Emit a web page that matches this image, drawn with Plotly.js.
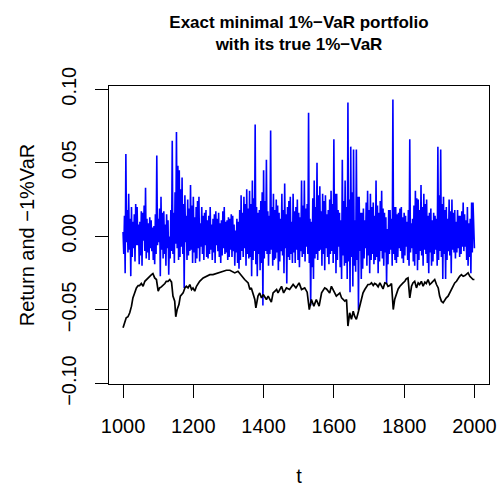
<!DOCTYPE html>
<html>
<head>
<meta charset="utf-8">
<script src="https://cdn.plot.ly/plotly-3.0.1.min.js"></script>
<style>html,body{margin:0;padding:0;background:#fff;}#chart{width:501px;height:489px;}</style>
</head>
<body>
<div id="chart"></div>
<script>
// Portfolio return (blue), sampled every 2 periods from t = 1000
const tStart = 1000;
const tStep = 2;
const portfolioReturn = [
  0.003, -0.012, 0.014, -0.025, 0.056, -0.004, 0.018, -0.011, 0.029, -0.009, 0.012, -0.027, 0.020, -0.014, 0.010, -0.008, 0.015, -0.017, 0.022, -0.006,
  0.020, -0.006, 0.008, -0.019, 0.010, -0.013, 0.017, -0.020, 0.016, -0.003, 0.021, -0.010, 0.033, -0.015, 0.012, -0.011, 0.009, -0.016, 0.013, -0.008,
  0.011, -0.010, 0.006, -0.016, 0.007, -0.019, 0.015, -0.012, 0.055, -0.006, 0.012, -0.004, 0.019, -0.027, 0.027, -0.009, 0.016, -0.015, 0.017, -0.012,
  0.008, -0.020, 0.015, -0.008, 0.011, -0.026, 0.000, -0.015, 0.018, -0.010, 0.065, -0.012, 0.016, -0.018, 0.030, -0.005, 0.071, -0.008, 0.048, -0.016,
  0.045, -0.014, 0.032, -0.007, 0.040, -0.012, 0.022, -0.035, 0.028, -0.004, 0.014, -0.016, 0.025, -0.013, 0.019, -0.010, 0.035, -0.009, 0.021, -0.018,
  0.027, -0.011, 0.013, -0.018, 0.020, -0.015, 0.024, -0.008, 0.027, -0.017, 0.009, -0.007, 0.020, -0.012, 0.014, -0.016, 0.016, -0.006, 0.018, -0.014,
  0.011, -0.015, 0.014, -0.012, 0.020, -0.009, 0.008, -0.016, 0.012, -0.011, 0.015, -0.018, 0.017, -0.006, 0.012, -0.010, 0.016, -0.014, 0.009, -0.018,
  0.011, -0.013, 0.017, -0.008, 0.020, -0.012, 0.010, -0.011, 0.011, -0.016, 0.013, -0.014, 0.012, -0.009, 0.015, -0.014, 0.014, -0.010, 0.008, -0.020,
  0.004, -0.011, 0.012, -0.018, 0.010, -0.022, 0.018, -0.016, 0.028, -0.010, 0.016, -0.014, 0.027, -0.008, 0.022, -0.020, 0.032, -0.012, 0.019, -0.015,
  0.031, -0.014, 0.022, -0.027, 0.038, -0.016, 0.026, -0.010, 0.076, -0.019, 0.020, -0.027, 0.016, -0.012, 0.018, -0.023, 0.024, -0.018, 0.030, -0.047,
  0.045, -0.015, 0.024, -0.010, 0.052, -0.012, 0.017, -0.020, 0.014, -0.012, 0.072, -0.009, 0.020, -0.020, 0.029, -0.016, 0.018, -0.015, 0.025, -0.011,
  0.021, -0.023, 0.016, -0.017, 0.012, -0.010, 0.029, -0.013, 0.018, -0.025, 0.036, -0.008, 0.015, -0.032, 0.020, -0.014, 0.024, -0.016, 0.027, -0.012,
  0.010, -0.018, 0.029, -0.011, 0.017, -0.018, 0.020, -0.009, 0.025, -0.016, 0.016, -0.021, 0.013, -0.010, 0.038, -0.014, 0.021, -0.012, 0.038, -0.017,
  0.019, -0.007, 0.022, -0.012, 0.084, -0.018, 0.012, -0.047, 0.010, -0.021, 0.026, -0.029, 0.038, -0.015, 0.020, -0.012, 0.050, -0.016, 0.028, -0.010,
  0.034, -0.009, 0.017, -0.020, 0.029, -0.012, 0.024, -0.023, 0.028, -0.008, 0.015, -0.014, 0.018, -0.019, 0.025, -0.012, 0.031, -0.010, 0.022, -0.018,
  0.066, -0.012, 0.029, -0.025, 0.029, -0.016, 0.018, -0.007, 0.016, -0.021, 0.011, -0.029, 0.052, -0.013, 0.024, -0.020, 0.038, -0.018, 0.020, -0.029,
  0.091, -0.017, 0.025, -0.038, 0.061, -0.014, 0.030, -0.034, 0.059, -0.020, 0.011, -0.024, 0.059, -0.016, 0.027, -0.050, 0.027, -0.010, 0.016, -0.029,
  0.016, -0.022, 0.019, -0.015, 0.011, -0.008, 0.023, -0.020, 0.031, -0.013, 0.018, -0.025, 0.029, -0.016, 0.020, -0.012, 0.023, -0.019, 0.014, -0.016,
  0.038, -0.014, 0.021, -0.025, 0.016, -0.017, 0.024, -0.010, 0.031, -0.015, 0.019, -0.020, 0.016, -0.011, 0.013, -0.032, 0.005, -0.019, 0.018, -0.012,
  0.018, -0.009, 0.012, -0.020, 0.093, -0.012, 0.020, -0.016, 0.020, -0.018, 0.015, -0.014, 0.016, -0.008, 0.019, -0.010, 0.020, -0.015, 0.013, -0.018,
  0.016, -0.013, 0.014, -0.007, 0.010, -0.016, 0.018, -0.020, 0.066, -0.011, 0.009, -0.008, 0.012, -0.017, 0.021, -0.020, 0.031, -0.012, 0.026, -0.023,
  0.025, -0.016, 0.018, -0.010, 0.035, -0.013, 0.020, -0.020, 0.029, -0.009, 0.022, -0.012, 0.025, -0.018, 0.014, -0.025, 0.016, -0.011, 0.019, -0.020,
  0.011, -0.017, 0.016, -0.012, 0.014, -0.009, 0.012, -0.020, 0.061, -0.016, 0.028, -0.010, 0.059, -0.014, 0.022, -0.029, 0.027, -0.012, 0.018, -0.029,
  0.020, -0.016, 0.012, -0.010, 0.025, -0.013, 0.017, -0.025, 0.025, -0.009, 0.016, -0.011, 0.018, -0.015, 0.010, -0.011, 0.018, -0.008, 0.014, -0.014,
  0.014, -0.012, 0.017, -0.007, 0.023, -0.010, 0.015, -0.007, 0.011, -0.016, 0.020, -0.020, 0.009, -0.014, 0.012, -0.025, 0.023, -0.011, 0.023, -0.006,
  -0.008
];

// Negative true 1%-VaR (black)
const varT = [
  1000, 1005, 1009, 1014, 1019, 1024, 1028, 1033, 1038, 1043, 1047, 1052, 1057, 1062, 1066, 1071, 1076, 1081, 1085, 1090,
  1095, 1100, 1104, 1109, 1114, 1119, 1123, 1128, 1133, 1138, 1142, 1147, 1150, 1154, 1159, 1163, 1171, 1176, 1180, 1185,
  1190, 1195, 1199, 1204, 1209, 1218, 1228, 1237, 1247, 1256, 1266, 1275, 1285, 1294, 1304, 1318, 1327, 1337, 1346, 1356,
  1361, 1365, 1370, 1375, 1378, 1384, 1389, 1394, 1399, 1408, 1413, 1422, 1427, 1437, 1441, 1451, 1457, 1465, 1474, 1484,
  1492, 1501, 1508, 1517, 1524, 1530, 1536, 1543, 1550, 1558, 1565, 1574, 1579, 1588, 1593, 1603, 1607, 1617, 1622, 1631,
  1636, 1640, 1645, 1650, 1655, 1659, 1664, 1669, 1674, 1678, 1683, 1688, 1693, 1697, 1702, 1707, 1712, 1716, 1721, 1726,
  1731, 1735, 1740, 1745, 1750, 1754, 1759, 1764, 1769, 1773, 1778, 1783, 1788, 1792, 1797, 1802, 1806, 1811, 1816, 1821,
  1825, 1830, 1835, 1840, 1844, 1849, 1854, 1859, 1863, 1868, 1873, 1878, 1882, 1887, 1892, 1897, 1901, 1906, 1911, 1916,
  1920, 1925, 1930, 1935, 1939, 1944, 1949, 1954, 1958, 1963, 1968, 1973, 1977, 1982, 1987, 1991, 1996, 2000
];
const negVaR = [
  -0.0621, -0.0576, -0.0553, -0.0546, -0.0519, -0.0474, -0.0418, -0.0384, -0.0350, -0.0334, -0.0334, -0.0320, -0.0339, -0.0305, -0.0293, -0.0282, -0.0271, -0.0260, -0.0253, -0.0282,
  -0.0293, -0.0372, -0.0350, -0.0343, -0.0334, -0.0320, -0.0305, -0.0305, -0.0293, -0.0311, -0.0406, -0.0440, -0.0546, -0.0497, -0.0463, -0.0406, -0.0384, -0.0350, -0.0339, -0.0350,
  -0.0327, -0.0361, -0.0350, -0.0372, -0.0339, -0.0305, -0.0282, -0.0271, -0.0260, -0.0260, -0.0253, -0.0244, -0.0237, -0.0230, -0.0230, -0.0248, -0.0237, -0.0271, -0.0293, -0.0316,
  -0.0361, -0.0350, -0.0384, -0.0429, -0.0485, -0.0406, -0.0384, -0.0418, -0.0395, -0.0429, -0.0406, -0.0447, -0.0384, -0.0361, -0.0384, -0.0339, -0.0384, -0.0350, -0.0361, -0.0327,
  -0.0350, -0.0316, -0.0361, -0.0350, -0.0379, -0.0497, -0.0429, -0.0474, -0.0429, -0.0474, -0.0384, -0.0350, -0.0357, -0.0384, -0.0339, -0.0384, -0.0406, -0.0384, -0.0418, -0.0440,
  -0.0429, -0.0609, -0.0519, -0.0564, -0.0508, -0.0542, -0.0564, -0.0519, -0.0474, -0.0440, -0.0384, -0.0361, -0.0339, -0.0327, -0.0327, -0.0316, -0.0334, -0.0320, -0.0327, -0.0343,
  -0.0316, -0.0339, -0.0357, -0.0316, -0.0320, -0.0339, -0.0334, -0.0320, -0.0497, -0.0429, -0.0384, -0.0357, -0.0339, -0.0327, -0.0316, -0.0305, -0.0289, -0.0282, -0.0418, -0.0339,
  -0.0316, -0.0305, -0.0350, -0.0316, -0.0327, -0.0305, -0.0339, -0.0311, -0.0320, -0.0293, -0.0327, -0.0316, -0.0305, -0.0293, -0.0327, -0.0350, -0.0406, -0.0440, -0.0451, -0.0429,
  -0.0418, -0.0406, -0.0384, -0.0361, -0.0339, -0.0316, -0.0305, -0.0282, -0.0271, -0.0260, -0.0271, -0.0266, -0.0260, -0.0248, -0.0271, -0.0282, -0.0293, -0.0293
];

const xTicks = [1000, 1200, 1400, 1600, 1800, 2000];
const yTicks = [-0.10, -0.05, 0.00, 0.05, 0.10];
const yTickText = ['\u22120.10', '\u22120.05', '0.00', '0.05', '0.10'];

const returnT = portfolioReturn.map((_, i) => tStart + tStep * i);

const font = 'Liberation Sans, Arial, Helvetica, sans-serif';

const traces = [
  {x: returnT, y: portfolioReturn, type: 'scatter', mode: 'lines',
   line: {color: '#0000FF', width: 1.6}, hoverinfo: 'skip'},
  {x: varT, y: negVaR, type: 'scatter', mode: 'lines',
   line: {color: '#000000', width: 1.7}, hoverinfo: 'skip'}
];

const layout = {
  width: 501, height: 489,
  margin: {l: 109, r: 12, t: 86, b: 105, pad: 0},
  paper_bgcolor: '#ffffff', plot_bgcolor: '#ffffff',
  showlegend: false,
  font: {family: font, size: 20, color: '#000'},
  title: {
    text: '<b>Exact minimal 1%\u2212VaR portfolio<br>with its true 1%\u2212VaR</b>',
    font: {family: font, size: 17, color: '#000'},
    x: 0.5, xref: 'paper', xanchor: 'center',
    y: 1 - 28 / 489, yref: 'container', yanchor: 'top'
  },
  xaxis: {
    range: [960, 2041.5], tickmode: 'array', tickvals: xTicks,
    ticktext: xTicks.map(String),
    ticks: 'outside', ticklen: 13, tickwidth: 1, tickcolor: '#000',
    ticklabelstandoff: 11,
    showline: true, linecolor: '#000', linewidth: 1, mirror: true,
    showgrid: false, zeroline: false,
    tickfont: {family: font, size: 20, color: '#000'},
    title: {text: 't', font: {family: font, size: 20, color: '#000'}, standoff: 32}
  },
  yaxis: {
    range: [-0.1003, 0.1022], tickmode: 'array', tickvals: yTicks,
    ticktext: yTickText,
    tickangle: -90,
    ticks: 'outside', ticklen: 13, tickwidth: 1, tickcolor: '#000',
    ticklabelstandoff: 11,
    showline: true, linecolor: '#000', linewidth: 1, mirror: true,
    showgrid: false, zeroline: false,
    tickfont: {family: font, size: 20, color: '#000'},
    title: {text: 'Return and \u22121%VaR', font: {family: font, size: 20, color: '#000'}, standoff: 18}
  }
};

Plotly.newPlot('chart', traces, layout, {staticPlot: true, displayModeBar: false});
</script>
</body>
</html>
